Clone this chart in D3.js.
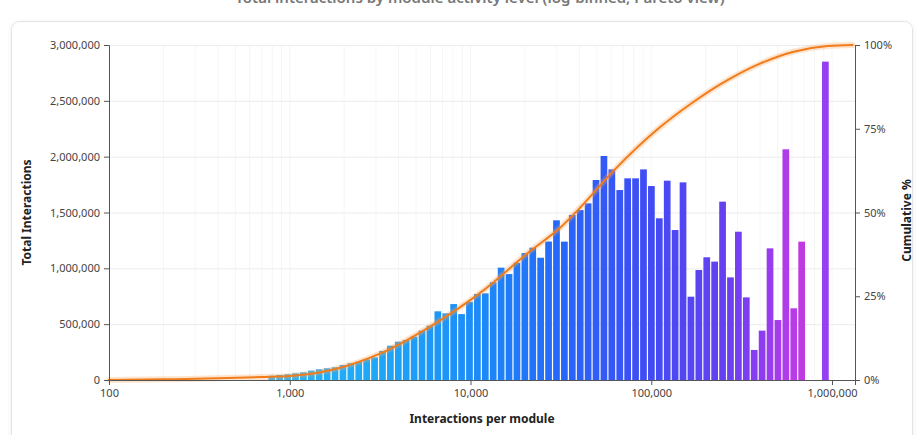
<!DOCTYPE html>
<html>
<head>
<meta charset="utf-8">
<script src="https://cdn.jsdelivr.net/npm/d3@7"></script>
<style>
  html, body { margin: 0; padding: 0; background: #ffffff; }
  svg { display: block; font-family: "Noto Sans", "Open Sans", sans-serif; }
</style>
</head>
<body>
<svg id="chart" width="923" height="435"></svg>
<script>
// Log-binned histogram: bins grow by a constant ratio from the first edge.
const binFirstEdge = 756;
const binRatio = 1.106;

// Total interactions falling in each bin (left to right).
const binTotals = [
  38000, 45000, 51000, 60000, 69000, 84000, 96000, 105000, 114000, 134000,
  150000, 164000, 185000, 203000, 260000, 307000, 343000, 358000, 388000, 442000,
  486000, 615000, 597000, 680000, 590000, 700000, 770000, 776000, 875000, 1006000,
  949000, 1050000, 1137000, 1185000, 1095000, 1240000, 1430000, 1239000, 1478000, 1522000,
  1582000, 1791000, 2006000, 1886000, 1701000, 1806000, 1806000, 1886000, 1737000, 1448000,
  1785000, 1343000, 1770000, 746000, 985000, 1099000, 1060000, 1597000, 919000, 1328000,
  740000, 269000, 442000, 1179000, 537000, 2066000, 642000, 1239000, 0, 0,
  2851000
];

// Cumulative share of all interactions up to a given interactions-per-module value.
const cumulativeAt = [100, 200, 400, 700, 1000, 1700, 3200, 6000, 11300, 21400,
  31400, 40500, 62000, 112000, 171000, 264000, 402000, 613000, 945000, 1300000];
const cumulativePct = [0, 0.2, 0.5, 0.9, 1.2, 3, 8, 16, 26, 38.5,
  45.5, 51.5, 62.5, 75.5, 83, 89.5, 94.5, 98, 99.7, 100];

const xTickValues = [100, 1000, 10000, 100000, 1000000];
const yTickValues = [0, 500000, 1000000, 1500000, 2000000, 2500000, 3000000];
const pctTickValues = [0, 25, 50, 75, 100];

const titleText = "Total interactions by module activity level (log-binned, Pareto view)";
const xTitle = "Interactions per module";
const yTitle = "Total Interactions";
const y2Title = "Cumulative %";

const plot = { left: 109, right: 855, top: 45, bottom: 380 };

const svg = d3.select("#chart");

// card
const defs = svg.append("defs");
const shadow = defs.append("filter").attr("id", "cardShadow")
  .attr("x", "-5%").attr("y", "-5%").attr("width", "110%").attr("height", "110%");
shadow.append("feDropShadow").attr("dx", 0).attr("dy", 1).attr("stdDeviation", 2)
  .attr("flood-color", "#000").attr("flood-opacity", 0.08);

svg.append("rect")
  .attr("x", 11.5).attr("y", 21.5).attr("width", 901).attr("height", 440)
  .attr("rx", 8).attr("fill", "#fff").attr("stroke", "#e4e4e4")
  .attr("filter", "url(#cardShadow)");

// title sits above the card, partly beyond the top edge
svg.append("text")
  .attr("x", 480).attr("y", 3)
  .attr("text-anchor", "middle")
  .attr("font-size", 15).attr("font-weight", 600).attr("fill", "#777")
  .text(titleText);

const x = d3.scaleLog().domain([100, 1.34e6]).range([plot.left, plot.right]);
const y = d3.scaleLinear().domain([0, 3000000]).range([plot.bottom, plot.top]);
const yPct = d3.scaleLinear().domain([0, 100]).range([plot.bottom, plot.top]);

// faint vertical grid on log ticks
svg.append("g").selectAll("line")
  .data(x.ticks().filter(v => v > 100))
  .join("line")
  .attr("x1", d => x(d)).attr("x2", d => x(d))
  .attr("y1", plot.top).attr("y2", plot.bottom)
  .attr("stroke", "#f6f6f6").attr("stroke-width", 1);

// horizontal grid
svg.append("g").selectAll("line")
  .data(yTickValues.filter(v => v > 0))
  .join("line")
  .attr("x1", plot.left).attr("x2", plot.right)
  .attr("y1", d => y(d) + 0.5).attr("y2", d => y(d) + 0.5)
  .attr("stroke", "#ececec").attr("stroke-width", 1);

// bar colour along the x axis (log10 of bin centre)
const barColor = d3.scaleLinear()
  .domain([2.9, 3.5, 4.0, 4.5, 5.0, 5.4, 5.6, 5.75, 5.85, 5.95])
  .range(["#2ab4f6", "#1ea6f6", "#1b8ef8", "#2567fb", "#424bf3", "#6540f1", "#8a3df0", "#b03be9", "#c43ae2", "#9240f2"])
  .interpolate(d3.interpolateRgb)
  .clamp(true);

const bins = binTotals.map((v, i) => {
  const lo = binFirstEdge * Math.pow(binRatio, i);
  return { lo, hi: lo * binRatio, value: v };
}).filter(d => d.value > 0);

svg.append("g").selectAll("rect")
  .data(bins)
  .join("rect")
  .attr("x", d => x(d.lo) + 0.6)
  .attr("width", d => Math.max(0, x(d.hi) - x(d.lo) - 1.2))
  .attr("y", d => y(d.value))
  .attr("height", d => plot.bottom - y(d.value))
  .attr("fill", d => barColor(Math.log10(Math.sqrt(d.lo * d.hi))));

// cumulative curve
const cumData = cumulativeAt.map((v, i) => ({ v, p: cumulativePct[i] }));
const line = d3.line()
  .x(d => x(d.v))
  .y(d => yPct(d.p))
  .curve(d3.curveMonotoneX);

svg.append("path")
  .datum(cumData)
  .attr("d", line)
  .attr("fill", "none")
  .attr("stroke", "#f7a45c").attr("stroke-opacity", 0.3)
  .attr("stroke-width", 6).attr("stroke-linecap", "round");

svg.append("path")
  .datum(cumData)
  .attr("d", line)
  .attr("fill", "none")
  .attr("stroke", "#f07c1c")
  .attr("stroke-width", 2).attr("stroke-linecap", "round");

// axes
function styleAxis(g) {
  g.selectAll(".domain").attr("stroke", "#555");
  g.selectAll(".tick line").attr("stroke", "#555");
  g.selectAll(".tick text").attr("fill", "#444").attr("font-size", 11)
    .attr("font-family", "\"Noto Sans\", \"Open Sans\", sans-serif");
}

svg.append("g")
  .attr("transform", `translate(0,${plot.bottom})`)
  .call(d3.axisBottom(x).tickValues(xTickValues).tickFormat(d3.format(",")).tickSize(5).tickPadding(4))
  .call(styleAxis);

svg.append("g")
  .attr("transform", `translate(${plot.left},0)`)
  .call(d3.axisLeft(y).tickValues(yTickValues).tickFormat(d3.format(",")).tickSize(5).tickPadding(4))
  .call(styleAxis);

svg.append("g")
  .attr("transform", `translate(${plot.right},0)`)
  .call(d3.axisRight(yPct).tickValues(pctTickValues).tickFormat(d => d + "%").tickSize(5).tickPadding(4))
  .call(styleAxis);

// axis titles
svg.append("text")
  .attr("x", (plot.left + plot.right) / 2).attr("y", 423)
  .attr("text-anchor", "middle")
  .attr("font-size", 12).attr("font-weight", 700).attr("fill", "#222")
  .text(xTitle);

svg.append("text")
  .attr("transform", `translate(31,${(plot.top + plot.bottom) / 2}) rotate(-90)`)
  .attr("text-anchor", "middle")
  .attr("font-size", 12).attr("font-weight", 700).attr("fill", "#222")
  .text(yTitle);

svg.append("text")
  .attr("transform", `translate(911,${(plot.top + plot.bottom) / 2 + 8}) rotate(-90)`)
  .attr("text-anchor", "middle")
  .attr("font-size", 12).attr("font-weight", 700).attr("fill", "#222")
  .text(y2Title);
</script>
</body>
</html>
